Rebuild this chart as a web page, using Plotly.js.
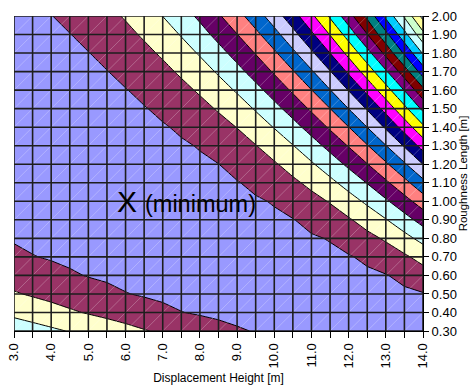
<!DOCTYPE html>
<html><head><meta charset="utf-8">
<script src="https://cdn.plot.ly/plotly-3.0.1.min.js"></script>
<style>html,body{margin:0;padding:0;background:#fff}#chart{width:473px;height:385px}</style>
</head><body><div id="chart"></div>
<script>
// Displacement height d [m] (x grid)
const displacementHeight = [3.0,3.5,4.0,4.5,5.0,5.5,6.0,6.5,7.0,7.5,8.0,8.5,9.0,9.5,10.0,10.5,11.0,11.5,12.0,12.5,13.0,13.5,14.0];
// Roughness length z0 [m] (y grid)
const roughnessLength = [0.30,0.40,0.50,0.60,0.70,0.80,0.90,1.00,1.10,1.20,1.30,1.40,1.50,1.60,1.70,1.80,1.90,2.00];
// Fit error, one row per roughness length (in contour-band units)
const fitError = [
[3.61,3.39,3.17,2.95,2.73,2.51,2.29,2.06,1.86,1.68,1.48,1.29,1.10,0.95,0.85,0.76,0.67,0.58,0.49,0.40,0.31,0.22,0.27],
[2.76,2.55,2.34,2.12,1.93,1.75,1.57,1.39,1.20,1.02,0.91,0.81,0.72,0.62,0.52,0.41,0.31,0.21,0.29,0.38,0.47,0.56,0.65],
[2.08,1.90,1.73,1.56,1.38,1.21,1.03,0.92,0.83,0.73,0.64,0.54,0.45,0.35,0.25,0.25,0.35,0.45,0.55,0.65,0.75,0.85,0.95],
[1.60,1.43,1.27,1.10,0.96,0.87,0.78,0.69,0.60,0.50,0.41,0.32,0.22,0.27,0.37,0.47,0.56,0.66,0.76,0.86,0.96,1.22,1.58],
[1.20,1.03,0.93,0.84,0.76,0.67,0.58,0.49,0.40,0.31,0.21,0.28,0.37,0.47,0.56,0.65,0.75,0.85,0.94,1.15,1.50,1.85,2.34],
[0.92,0.83,0.75,0.66,0.57,0.49,0.40,0.31,0.22,0.27,0.36,0.45,0.54,0.63,0.73,0.82,0.92,1.04,1.38,1.73,2.12,2.69,3.31],
[0.75,0.67,0.58,0.50,0.41,0.33,0.24,0.25,0.34,0.42,0.51,0.60,0.70,0.79,0.88,0.97,1.23,1.57,1.90,2.39,2.95,3.62,4.38],
[0.60,0.52,0.43,0.35,0.27,0.22,0.31,0.39,0.48,0.57,0.65,0.74,0.83,0.92,1.05,1.38,1.70,2.06,2.60,3.18,3.86,4.64,5.50],
[0.46,0.38,0.30,0.22,0.27,0.35,0.44,0.52,0.61,0.69,0.78,0.87,0.96,1.17,1.49,1.82,2.23,2.76,3.37,4.04,4.83,5.70,6.73],
[0.33,0.25,0.23,0.31,0.39,0.47,0.56,0.64,0.73,0.81,0.90,0.99,1.27,1.59,1.90,2.36,2.89,3.51,4.19,4.97,5.85,6.88,8.01],
[0.22,0.26,0.34,0.42,0.51,0.59,0.67,0.76,0.84,0.92,1.04,1.34,1.65,1.97,2.46,2.97,3.60,4.29,5.06,5.94,6.97,8.09,9.39],
[0.29,0.37,0.45,0.53,0.61,0.69,0.78,0.86,0.94,1.10,1.40,1.70,2.02,2.53,3.04,3.67,4.36,5.13,5.98,7.01,8.13,9.41,10.81],
[0.40,0.47,0.55,0.63,0.71,0.79,0.88,0.96,1.15,1.44,1.74,2.08,2.56,3.08,3.71,4.39,5.15,5.99,7.01,8.09,9.35,10.75,12.21],
[0.49,0.57,0.65,0.73,0.81,0.89,0.97,1.18,1.47,1.77,2.11,2.60,3.10,3.72,4.40,5.14,5.98,6.97,8.04,9.28,10.62,12.03,13.75],
[0.58,0.66,0.74,0.82,0.90,0.98,1.21,1.49,1.78,2.13,2.60,3.11,3.72,4.38,5.11,5.93,6.89,7.95,9.17,10.47,11.86,13.52,15.50],
[0.66,0.75,0.83,0.90,0.98,1.22,1.50,1.79,2.12,2.60,3.09,3.69,4.33,5.05,5.85,6.80,7.83,9.01,10.28,11.66,13.27,15.15,17.09],
[0.74,0.83,0.91,0.98,1.22,1.50,1.78,2.11,2.57,3.06,3.64,4.28,4.98,5.76,6.67,7.68,8.82,10.04,11.42,12.97,14.71,16.68,18.70],
[0.80,0.89,0.98,1.22,1.49,1.77,2.08,2.54,3.01,3.58,4.19,4.89,5.65,6.54,7.51,8.60,9.80,11.14,12.60,14.23,16.24,18.13,20.34]
];
// Band colours (Excel chart palette), lowest band first
const bandColors = ['#9999FF','#993366','#FFFFCC','#CCFFFF','#660066','#FF8080','#0066CC','#CCCCFF','#000080','#FF00FF','#FFFF00','#00FFFF','#800080','#800000','#008080','#0000FF','#00CCFF','#CCFFFF','#CCFFCC','#FFFF99','#99CCFF','#FF99CC'];
const minimumLabel = ['X', '(minimum)'];
const xTitle = 'Displacement Height [m]';
const yTitle = 'Roughness Length [m]';

const FONT = 'Liberation Sans, Arial, sans-serif';
const nLevels = bandColors.length - 1;
const cs = [];
bandColors.forEach((c, m) => {
  const lo = Math.max(0, (m - 0.5) / nLevels);
  const hi = Math.min(1, (m + 0.5) / nLevels);
  cs.push([lo, c]); cs.push([hi, c]);
});

const contour = {
  type: 'contour',
  x: displacementHeight, y: roughnessLength, z: fitError,
  autocontour: false,
  contours: {start: 1, end: nLevels, size: 1, coloring: 'fill', showlines: true},
  colorscale: cs, showscale: false,
  line: {color: '#000000', width: 1, smoothing: 0},
  hoverinfo: 'skip'
};

// faint white cell diagonals (surface triangulation)
const hx = [], hy = [];
const nx = displacementHeight.length, ny = roughnessLength.length;
const starts = [];
for (let i = 0; i < nx - 1; i++) starts.push([i, 0]);
for (let j = 1; j < ny - 1; j++) starts.push([0, j]);
starts.forEach(([i0, j0]) => {
  let i = i0, j = j0;
  while (i < nx && j < ny) { hx.push(displacementHeight[i]); hy.push(roughnessLength[j]); i++; j++; }
  hx.push(null); hy.push(null);
});
const hatch = {type: 'scatter', mode: 'lines', x: hx, y: hy,
  line: {color: 'rgba(255,255,255,0.25)', width: 1}, hoverinfo: 'skip', showlegend: false};

const shapes = [];
displacementHeight.forEach(v => shapes.push({type: 'line', xref: 'x', yref: 'paper', x0: v, x1: v, y0: 0, y1: 1, layer: 'above', line: {color: '#1e1e1e', width: 1.6}}));
roughnessLength.forEach(v => shapes.push({type: 'line', xref: 'paper', yref: 'y', x0: 0, x1: 1, y0: v, y1: v, layer: 'above', line: {color: '#1e1e1e', width: 1.6}}));

const layout = {
  width: 473, height: 385,
  margin: {l: 14, r: 50, t: 16, b: 54, pad: 0},
  paper_bgcolor: '#ffffff', plot_bgcolor: '#ffffff',
  font: {family: FONT, color: '#000000', size: 13},
  showlegend: false,
  xaxis: {
    range: [3, 14], dtick: 1, tick0: 3, tickformat: '.1f', tickangle: -90,
    ticks: 'outside', ticklen: 6, tickcolor: '#000', tickwidth: 1,
    minor: {dtick: 0.5, ticks: 'outside', ticklen: 6, tickcolor: '#000', tickwidth: 1, showgrid: false},
    showgrid: false, zeroline: false, showline: true, linecolor: '#000', linewidth: 1,
    tickfont: {family: FONT, size: 13, color: '#000'},
    title: {text: xTitle, font: {family: FONT, size: 12, color: '#000'}, standoff: 6},
    fixedrange: true
  },
  yaxis: {
    range: [0.3, 2.0], dtick: 0.1, tick0: 0.3, tickformat: '.2f', side: 'right',
    ticks: 'outside', ticklen: 5, tickcolor: '#000', tickwidth: 1,
    showgrid: false, zeroline: false, showline: true, linecolor: '#000', linewidth: 1,
    tickfont: {family: FONT, size: 13, color: '#000'},
    title: {text: yTitle, font: {family: FONT, size: 11.5, color: '#000'}, standoff: 2},
    fixedrange: true
  },
  shapes: shapes,
  annotations: [
    {xref: 'x', yref: 'y', x: 5.72, y: 1.0, xanchor: 'left', yanchor: 'middle', text: minimumLabel[0], showarrow: false,
     font: {family: FONT, size: 30, color: '#000'}},
    {xref: 'x', yref: 'y', x: 6.48, y: 0.985, xanchor: 'left', yanchor: 'middle', text: minimumLabel[1], showarrow: false,
     font: {family: FONT, size: 23.5, color: '#000'}}
  ]
};

Plotly.newPlot('chart', [contour, hatch], layout, {displayModeBar: false, staticPlot: true});
</script>
</body></html>
